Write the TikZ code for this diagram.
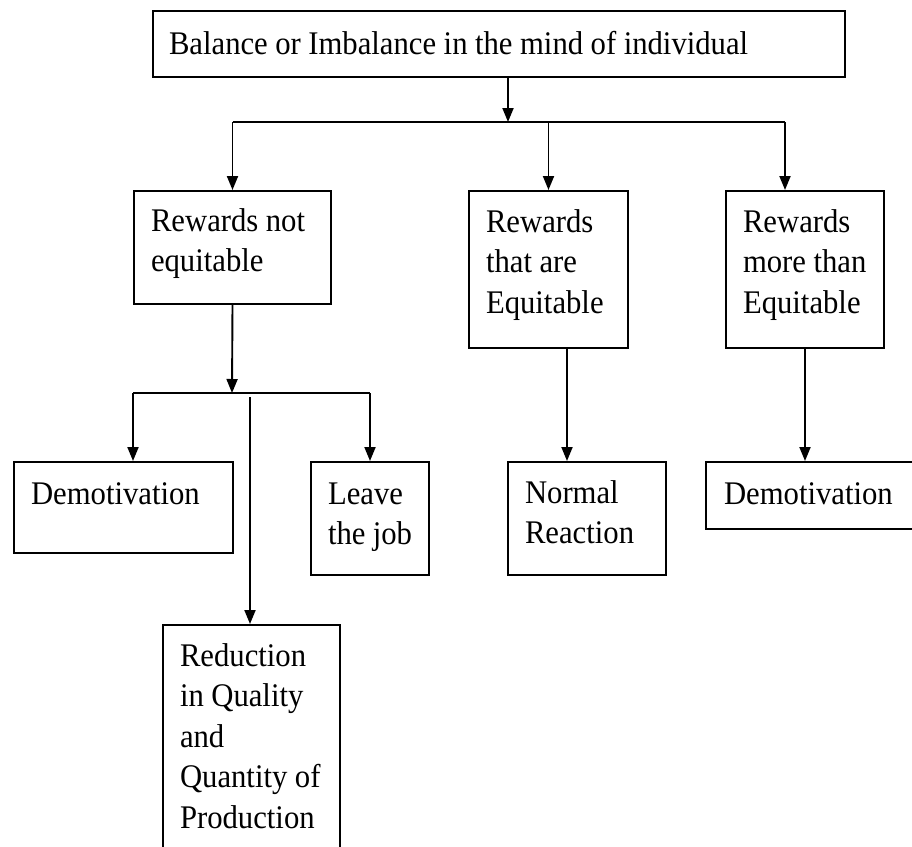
\documentclass[tikz,border=0pt]{standalone}
\usepackage{fontspec}
\setmainfont{Liberation Serif}[FakeStretch=0.93]
\usetikzlibrary{arrows.meta}

\begin{document}
\begin{tikzpicture}[x=1pt, y=-1pt,
    font=\fontsize{33}{40.5}\selectfont,
    execute at begin node={\spaceskip=7.5pt plus 2pt minus 1pt\relax},
    box/.style={draw, line width=2pt, anchor=north west, align=left,
      inner xsep=17pt, inner ysep=0pt, text height=41pt},
    link/.style={line width=1.9pt},
    arr/.style={link, -{Triangle[length=14pt, width=11pt]}}]
  \useasboundingbox (0,0) rectangle (912,846);
  \clip (0,0) rectangle (912,846);

  % top box
  \node[box, inner xsep=16pt, text width=660pt, text height=43pt, text depth=23pt] (top) at (152,10)
    {Balance or Imbalance in the mind of individual};

  % second row
  \node[box, text width=163pt, text height=40pt, text depth=73pt] (rne) at (133,190)
    {Rewards~not\\equitable};
  \node[box, text width=125pt, text depth=116pt] (rte) at (468,190)
    {Rewards\\that are\\Equitable};
  \node[box, text width=124pt, text depth=116pt] (rme) at (725,190)
    {Rewards\\more~than\\Equitable};

  % third row
  \node[box, text width=185pt, text height=42pt, text depth=49pt] (demoA) at (13,461)
    {Demotivation};
  \node[box, text width=84pt, text height=42pt, text depth=71pt] (leave) at (310,461)
    {Leave\\the~job};
  \node[box, text width=124pt, text depth=72pt] (normal) at (507,461)
    {Normal\\Reaction};
  \node[box, inner xsep=18pt, text width=200pt, text height=42pt, text depth=25pt] (demoB) at (705,461)
    {Demotivation};
  \node[box, text width=143pt, text depth=250pt] (reduce) at (162,624)
    {Reduction\\in Quality\\and\\Quantity~of\\Production};

  % junction points
  \coordinate (hub) at (508,122);
  \coordinate (hubR) at (785,122);
  \coordinate (split) at (232,393);
  \coordinate (splitL) at (133,393);
  \coordinate (splitR) at (370,393);
  \coordinate (drop) at (250,397);
  \coordinate (nin) at (567,461);

  % connectors
  \draw[arr] (top.south -| hub) -- (hub);
  \draw[link] (rne.north |- hub) -- (hubR);
  \draw[arr] (rne.north |- hub) -- (rne.north);
  \draw[arr] (rte.north |- hub) -- (rte.north);
  \draw[arr] (hubR) -- (hubR |- rme.north);

  \draw[arr] (rne.south) -- (split);
  \draw[link] (splitL) -- (splitR);
  \draw[arr] (splitL) -- (splitL |- demoA.north);
  \draw[arr] (splitR) -- (splitR |- leave.north);
  \draw[arr] (drop) -- (drop |- reduce.north);

  \draw[arr] (nin |- rte.south) -- (nin);
  \draw[arr] (rme.south) -- (rme.south |- demoB.north);
\end{tikzpicture}
\end{document}
